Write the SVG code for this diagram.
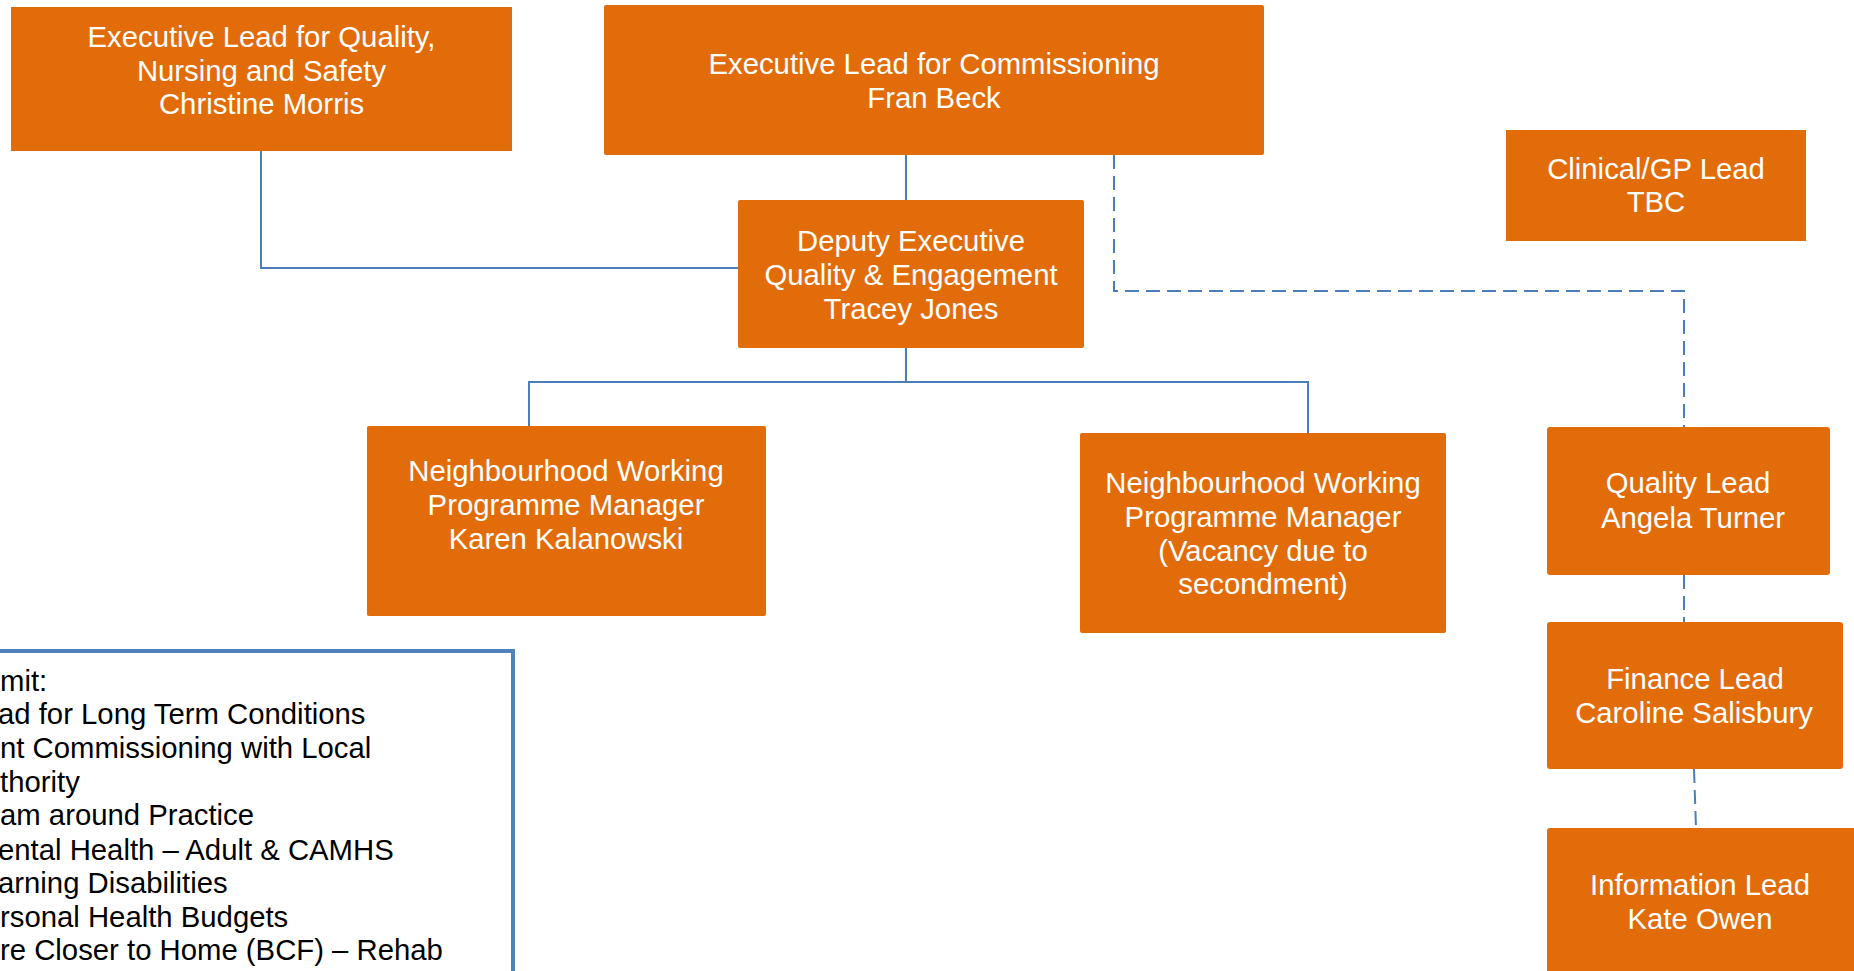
<svg xmlns="http://www.w3.org/2000/svg" width="1854" height="971" viewBox="0 0 1854 971">
<style>
.box{fill:#E36C0A;}
.t{font-family:"Liberation Sans",Arial,sans-serif;font-size:29.3px;fill:#FFFFFF;text-anchor:middle;}
.b{font-family:"Liberation Sans",Arial,sans-serif;font-size:29.3px;fill:#000000;}
.ln{fill:none;stroke:#4A7EBB;stroke-width:2;}
.dash{fill:none;stroke:#4A7EBB;stroke-width:2;stroke-dasharray:14 7;}
</style>
<rect width="1854" height="971" fill="#FFFFFF"/>
<g id="connectors">
<path class="ln" d="M261 151 V268 H738"/>
<path class="ln" d="M906 155 V200"/>
<path class="ln" d="M906 348 V382"/>
<path class="ln" d="M529 426 V382 H1308 V433"/>
<path class="dash" d="M1114 155 V291 H1684 V427"/>
<path class="dash" d="M1684 575 V622"/>
<path class="dash" d="M1694 769 L1696 828"/>
</g>
<g id="exec-quality">
<rect class="box" x="11" y="7" width="501" height="144"/>
<text class="t" x="261.5" y="47">Executive Lead for Quality,</text>
<text class="t" x="261.5" y="81">Nursing and Safety</text>
<text class="t" x="261.5" y="114">Christine Morris</text>
</g>
<g id="exec-commissioning">
<rect class="box" x="604" y="5" width="660" height="150" rx="2"/>
<text class="t" x="934" y="74">Executive Lead for Commissioning</text>
<text class="t" x="934" y="108">Fran Beck</text>
</g>
<g id="clinical-lead">
<rect class="box" x="1506" y="130" width="300" height="111"/>
<text class="t" x="1656" y="179">Clinical/GP Lead</text>
<text class="t" x="1656" y="212">TBC</text>
</g>
<g id="deputy-exec">
<rect class="box" x="738" y="200" width="346" height="148" rx="2"/>
<text class="t" x="911" y="251">Deputy Executive</text>
<text class="t" x="911" y="285">Quality &amp; Engagement</text>
<text class="t" x="911" y="319">Tracey Jones</text>
</g>
<g id="nwpm-karen">
<rect class="box" x="367" y="426" width="399" height="190" rx="2"/>
<text class="t" x="566" y="481">Neighbourhood Working</text>
<text class="t" x="566" y="515">Programme Manager</text>
<text class="t" x="566" y="549">Karen Kalanowski</text>
</g>
<g id="nwpm-vacancy">
<rect class="box" x="1080" y="433" width="366" height="200" rx="2"/>
<text class="t" x="1263" y="493">Neighbourhood Working</text>
<text class="t" x="1263" y="527">Programme Manager</text>
<text class="t" x="1263" y="561">(Vacancy due to</text>
<text class="t" x="1263" y="594">secondment)</text>
</g>
<g id="quality-lead">
<rect class="box" x="1547" y="427" width="283" height="148" rx="3"/>
<text class="t" x="1688" y="493">Quality Lead</text>
<text class="t" x="1693" y="528">Angela Turner</text>
</g>
<g id="finance-lead">
<rect class="box" x="1547" y="622" width="296" height="147" rx="3"/>
<text class="t" x="1695" y="689">Finance Lead</text>
<text class="t" x="1694" y="723">Caroline Salisbury</text>
</g>
<g id="information-lead">
<rect class="box" x="1547" y="828" width="320" height="160" rx="3"/>
<text class="t" x="1700" y="895">Information Lead</text>
<text class="t" x="1700" y="929">Kate Owen</text>
</g>
<g id="remit-box">
<rect x="-10" y="651" width="523" height="360" fill="#FFFFFF" stroke="#4F81BD" stroke-width="4"/>
<text class="b" x="0" y="691">mit:</text>
<text class="b" x="-2" y="724">ad for Long Term Conditions</text>
<text class="b" x="0" y="758">nt Commissioning with Local</text>
<text class="b" x="0" y="792">thority</text>
<text class="b" x="0" y="825">am around Practice</text>
<text class="b" x="-2" y="860">ental Health – Adult &amp; CAMHS</text>
<text class="b" x="-2" y="893">arning Disabilities</text>
<text class="b" x="0" y="927">rsonal Health Budgets</text>
<text class="b" x="0" y="960">re Closer to Home (BCF) – Rehab</text>
</g>
</svg>
